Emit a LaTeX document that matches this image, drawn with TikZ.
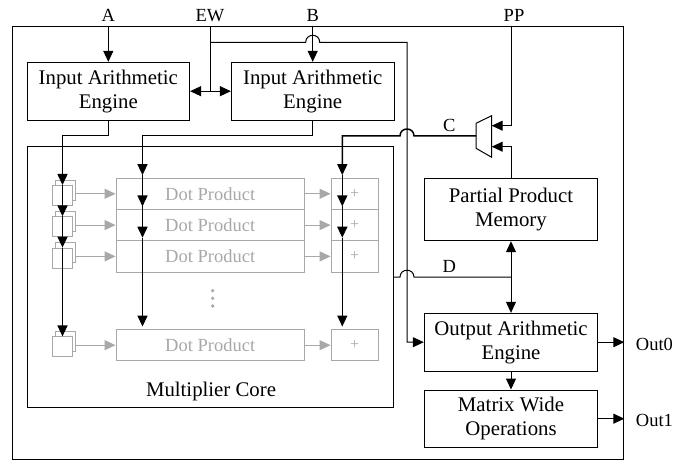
\documentclass[tikz,border=0pt]{standalone}
\usepackage{fontspec}
\setmainfont{Liberation Serif}
\usetikzlibrary{arrows.meta}
\definecolor{lg}{RGB}{168,168,168}
\tikzset{
 box/.style={draw, line width=1pt, inner sep=0pt, align=center, font=\fontsize{20.8}{24}\selectfont},
 lbl/.style={font=\fontsize{18.5}{22}\selectfont, inner sep=0pt},
 wire/.style={line width=1pt},
 tw/.style={line width=1.5pt},
 arr/.style={wire, -{Triangle[length=11pt,width=10pt]}},
 darr/.style={wire, {Triangle[length=11pt,width=10pt]}-{Triangle[length=11pt,width=10pt]}},
 corearr/.style={tw, -{Triangle[length=11pt,width=10pt]}},
 gbox/.style={draw=lg, line width=1pt, text=lg, inner sep=0pt, font=\fontsize{18.5}{22}\selectfont},
 reg/.style={draw=lg, fill=white, line width=1pt, minimum size=20pt, inner sep=0pt},
 garr/.style={draw=lg, line width=1pt, -{Triangle[length=11pt,width=10pt,fill=lg]}},
}
\begin{document}
\begin{tikzpicture}[x=1pt,y=-1pt]
\useasboundingbox (0,0) rectangle (686,462);
% outer frame
\node[draw, line width=1pt, minimum width=611pt, minimum height=433.6pt, anchor=north west, inner sep=0pt] (outer) at (12.3,25.7) {};
% main boxes
\node[box, minimum width=162.6pt, minimum height=57.7pt] (iae1) at (108.3,91.2) {Input Arithmetic\\Engine};
\node[box, minimum width=162.6pt, minimum height=57.7pt] (iae2) at (312.7,91.2) {Input Arithmetic\\Engine};
\node[box, minimum width=366pt, minimum height=261pt] (core) at (210.3,277.2) {};
\node[font=\fontsize{20.8}{24}\selectfont, anchor=base, inner sep=0pt] (corelbl) at (211,396.7) {Multiplier Core};
\node[box, minimum width=173.4pt, minimum height=62.4pt] (ppm) at (511,209.5) {Partial Product\\Memory};
\node[box, minimum width=173.4pt, minimum height=57.7pt] (oae) at (511,342.2) {Output Arithmetic\\Engine};
\node[box, minimum width=173.4pt, minimum height=57.3pt] (mwo) at (511,418.7) {Matrix Wide\\Operations};
% multiplexer
\draw[line width=1pt] (476,123.3) -- (491.7,115.7) -- (491.7,157.3) -- (476,148.3) -- cycle;
\coordinate (muxout) at (476,136);
\coordinate (muxin1) at (491.7,125.7);
\coordinate (muxin2) at (491.7,146.7);
% rows of the multiplier core
\foreach \i/\y in {1/193.8,2/225.1,3/256.4,4/345.2} {
  \node[gbox, minimum width=188.3pt, minimum height=31.3pt] (dp\i) at (210.2,\y) {Dot Product};
  \node[gbox, minimum width=47.3pt, minimum height=31.3pt, font=\fontsize{16}{18}\selectfont] (ad\i) at (354.7,\y) {+};
  \node[reg] (rb\i) at (65.9,\y-3.5) {};
  \node[reg] (rf\i) at (62.5,\y+1.7) {};
  \draw[garr] (rb\i.east |- dp\i.west) -- (dp\i.west);
  \draw[garr] (dp\i.east) -- (ad\i.west);
}
\fill[lg] (212.7,290.7) circle (1.8pt);
\fill[lg] (212.7,298.3) circle (1.8pt);
\fill[lg] (212.7,306) circle (1.8pt);
% labels
\node[lbl, anchor=base] (la) at (108.3,21.7) {A};
\node[lbl, anchor=base] (lew) at (210,21.7) {EW};
\node[lbl, anchor=base] (lb) at (312.7,21.7) {B};
\node[lbl, anchor=base] (lpp) at (514,21.7) {PP};
\node[lbl, anchor=base] (lc) at (449.3,131.7) {C};
\node[lbl, anchor=base] (ld) at (449.3,272.3) {D};
\node[lbl, anchor=base west] (lo0) at (635.7,350.5) {Out0};
\node[lbl, anchor=base west] (lo1) at (635.7,426.7) {Out1};
% inputs A, B
\draw[arr] (iae1.north |- outer.north) -- (iae1.north);
\draw[arr] (iae2.north |- outer.north) -- (iae2.north);
% EW
\coordinate (ewtop) at (210,25.7);
\coordinate (ewj) at (210,42.3);
\draw[wire] (ewtop) -- (ewtop |- iae1.east);
\draw[darr] (iae1.east) -- (iae2.west);
\draw[arr] (ewj) -- (305.7,42.3) .. controls (305.7,33) and (319.7,33) .. (319.7,42.3) -- (407,42.3) -- (407,342.2) -- (oae.west);
% PP and mux
\draw[arr] (ppm.north |- outer.north) |- (muxin1);
\draw[arr] (ppm.north) |- (muxin2);
% left column (input engine 1)
\coordinate (l0) at (62.5,135.7);
\draw[corearr] (iae1.south) |- (l0) -- (l0 |- rf1.north);
\draw[corearr] (l0 |- rf1.north) -- (l0 |- rf2.north);
\draw[corearr] (l0 |- rf2.north) -- (l0 |- rf3.north);
\draw[corearr] (l0 |- rf3.north) -- (l0 |- rf4.north);
% middle column (input engine 2)
\coordinate (m0) at (142.5,135.7);
\draw[corearr] (iae2.south) |- (m0) -- ([yshift=2.5pt]dp1.north -| m0);
\draw[corearr] ([yshift=2.5pt]dp1.north -| m0) -- ([yshift=2.5pt]dp2.north -| m0);
\draw[corearr] ([yshift=2.5pt]dp2.north -| m0) -- ([yshift=2.5pt]dp3.north -| m0);
\draw[corearr] ([yshift=2.5pt]dp3.north -| m0) -- ([yshift=2.5pt]dp4.north -| m0);
% right column (C from mux)
\coordinate (c0) at (342.3,136);
\draw[corearr] (muxout) -- (414,136) .. controls (414,126.7) and (400,126.7) .. (400,136) -- (c0) -- ([yshift=2.5pt]ad1.north -| c0);
\draw[corearr] ([yshift=2.5pt]ad1.north -| c0) -- ([yshift=2.5pt]ad2.north -| c0);
\draw[corearr] ([yshift=2.5pt]ad2.north -| c0) -- ([yshift=2.5pt]ad3.north -| c0);
\draw[corearr] ([yshift=2.5pt]ad3.north -| c0) -- ([yshift=2.5pt]ad4.north -| c0);
% D and memory
\draw[darr] (ppm.south) -- (oae.north);
\draw[wire] (core.east) -- (400,277.2) .. controls (400,267.9) and (414,267.9) .. (414,277.2) -- (ppm.south |- core.east);
% outputs
\draw[arr] (oae.south) -- (mwo.north);
\draw[arr] (oae.east) -- (oae.east -| outer.east);
\draw[arr] (mwo.east) -- (mwo.east -| outer.east);
\end{tikzpicture}
\end{document}
